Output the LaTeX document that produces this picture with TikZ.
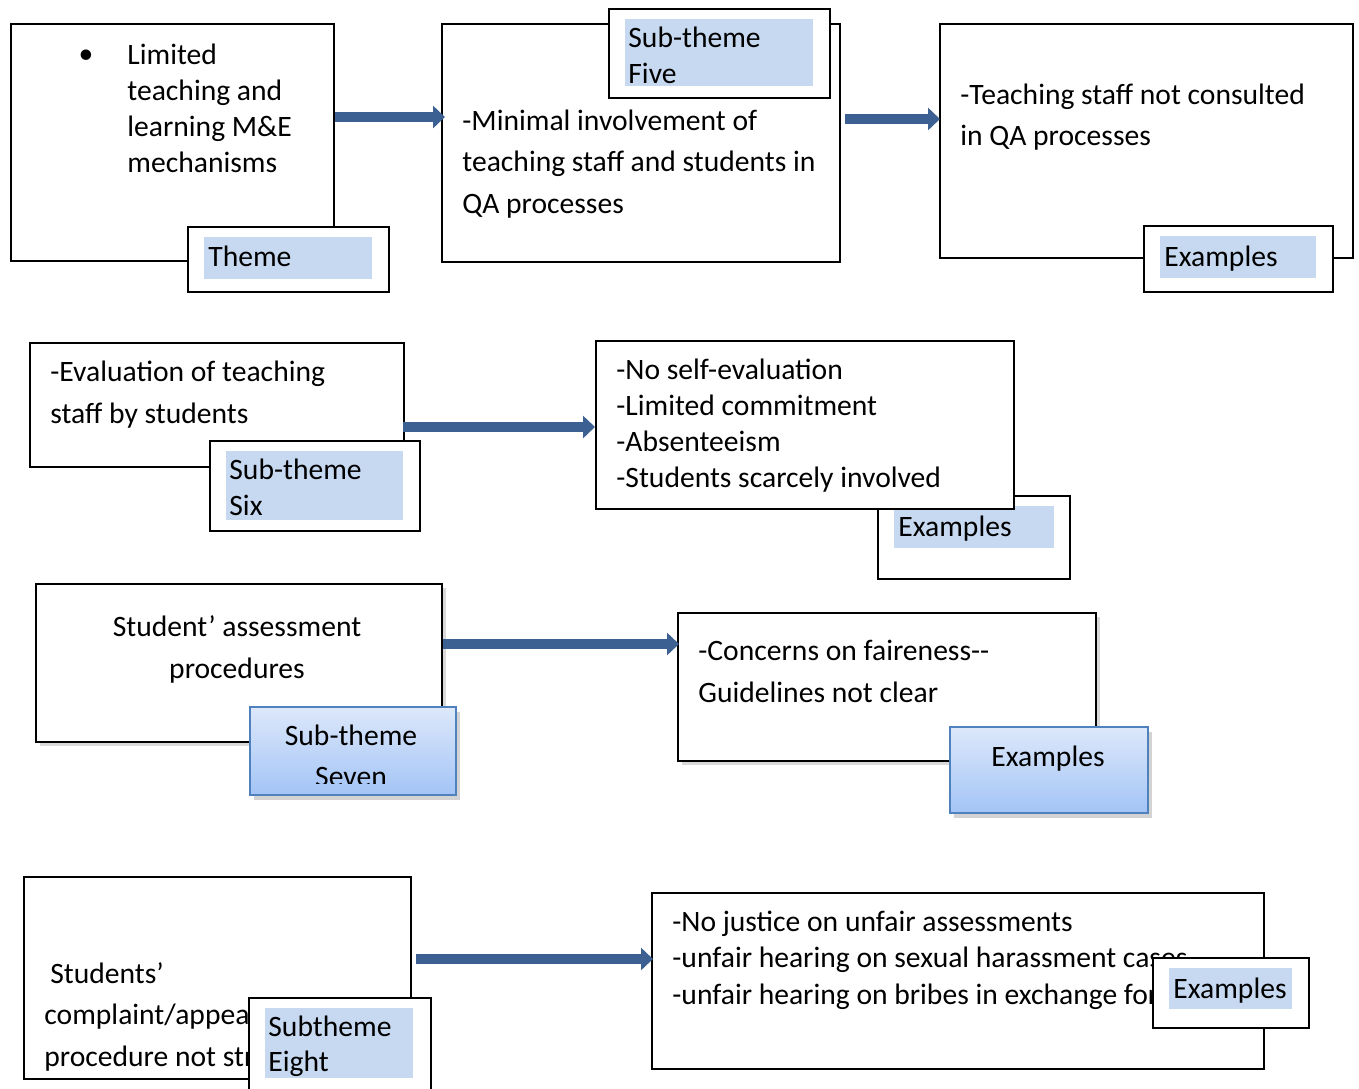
\documentclass[tikz,border=0pt]{standalone}
\usepackage{fontspec}
\setmainfont{Carlito}
\usetikzlibrary{arrows.meta,calc,shadows}
\newlength\pxu
\setlength\pxu{0.5pt}
\definecolor{tagblue}{RGB}{198,217,241}
\definecolor{arrowblue}{RGB}{60,96,146}
\definecolor{gradtop}{RGB}{221,232,250}
\definecolor{gradbot}{RGB}{163,196,246}
\definecolor{gradline}{RGB}{79,129,189}
\tikzset{
  x=\pxu, y=-\pxu,
  panel/.style={draw=black, fill=white, line width=1pt, anchor=north west, inner sep=0pt},
  shadowpanel/.style={panel, drop shadow={opacity=0.3, shadow xshift=2pt, shadow yshift=-2pt}},
  tagframe/.style={draw=black, fill=white, line width=1pt, anchor=north west, inner sep=0pt},
  tagfill/.style={fill=tagblue, draw=none, anchor=north west, inner sep=0pt},
  gradtag/.style={draw=gradline, line width=0.8pt, top color=gradtop, bottom color=gradbot,
    anchor=north west, inner sep=0pt,
    drop shadow={opacity=0.35, shadow xshift=2pt, shadow yshift=-2.5pt}},
  % text blocks are placed by the baseline of their last line
  txt/.style={inner sep=0pt, anchor=base west, align=left, yshift=-1pt},
  txtc/.style={inner sep=0pt, anchor=base, align=center, yshift=-1pt},
  arr/.style={draw=arrowblue, line width=5pt, -{Triangle[length=6pt,width=11pt]}},
}
\newcommand\fs[1]{\fontsize{14.8pt}{#1}\selectfont}
\begin{document}
\begin{tikzpicture}
\useasboundingbox (0,0) rectangle (1359,1088);

% ---------- row 1: theme ----------
\node[panel, minimum width=323\pxu, minimum height=237\pxu] (A) at (10,23) {};
\node[inner sep=0pt, font=\fs{18pt}] (Abul) at (86,57) {•};
\node[txt, font=\fs{18pt}] (Atxt) at (127,170) {Limited\\teaching and\\learning M\&E\\mechanisms};

\node[panel, minimum width=398\pxu, minimum height=238\pxu] (B) at (441,23) {};
\node[txt, font=\fs{20.75pt}] (Btxt) at (462,211) {-Minimal involvement of\\teaching staff and students in\\QA processes};

\node[panel, minimum width=413\pxu, minimum height=234\pxu] (C) at (939,23) {};
\node[txt, font=\fs{20.5pt}] (Ctxt) at (960,143) {-Teaching staff not consulted\\in QA processes};

\draw[arr] ($(A.north east)+(0,94)$) -- ($(B.north west)+(4,94)$);
\draw[arr] ($(B.north east)+(4,96)$) -- ($(C.north west)+(1,96)$);

\node[tagframe, minimum width=201\pxu, minimum height=65\pxu] (Atag) at (187,226) {};
\node[tagfill, minimum width=168\pxu, minimum height=42\pxu] (Atagf) at (204,237) {};
\node[txt, font=\fs{18pt}] (Atagt) at (208,264) {Theme};

\node[tagframe, minimum width=221\pxu, minimum height=89\pxu] (Btag) at (608,8) {};
\node[tagfill, minimum width=188\pxu, minimum height=67\pxu] (Btagf) at (625,19) {};
\node[txt, font=\fs{18pt}] (Btagt) at (628,81) {Sub-theme\\Five};

\node[tagframe, minimum width=189\pxu, minimum height=66\pxu] (Ctag) at (1143,225) {};
\node[tagfill, minimum width=156\pxu, minimum height=42\pxu] (Ctagf) at (1160,236) {};
\node[txt, font=\fs{18pt}] (Ctagt) at (1164,264) {Examples};

% ---------- row 2: sub-theme six ----------
\node[tagframe, minimum width=192\pxu, minimum height=83\pxu] (Etag) at (877,495) {};
\node[tagfill, minimum width=160\pxu, minimum height=42\pxu] (Etagf) at (894,506) {};
\node[txt, font=\fs{18pt}] (Etagt) at (898,534) {Examples};

\node[panel, minimum width=374\pxu, minimum height=124\pxu] (D) at (29,342) {};
\node[txt, font=\fs{21pt}] (Dtxt) at (50,421) {-Evaluation of teaching\\staff by students};

\node[panel, minimum width=418\pxu, minimum height=168\pxu] (E) at (595,340) {};
\node[txt, font=\fs{18pt}] (Etxt) at (616,485) {-No self-evaluation\\-Limited commitment\\-Absenteeism\\-Students scarcely involved};

\draw[arr] ($(D.north east)+(-2,85)$) -- ($(E.north west)+(0,87)$);

\node[tagframe, minimum width=210\pxu, minimum height=90\pxu] (Dtag) at (209,440) {};
\node[tagfill, minimum width=177\pxu, minimum height=69\pxu] (Dtagf) at (226,451) {};
\node[txt, font=\fs{18pt}] (Dtagt) at (229,513) {Sub-theme\\Six};

% ---------- row 3: sub-theme seven ----------
\node[shadowpanel, minimum width=406\pxu, minimum height=158\pxu] (F) at (35,583) {};
\node[txtc, font=\fs{21pt}] (Ftxt) at (237,676) {Student’ assessment\\procedures};

\node[shadowpanel, minimum width=418\pxu, minimum height=148\pxu] (G) at (677,612) {};
\node[txt, font=\fs{21pt}] (Gtxt) at (698,700) {-Concerns on faireness-{}-\\Guidelines not clear};

\draw[arr] ($(F.north east)+(0,61)$) -- ($(G.north west)+(2,32)$);

\node[gradtag, minimum width=206\pxu, minimum height=88\pxu] (Ftag) at (249,706) {};
\begin{scope}
  \clip (249,706) rectangle (455,783);
  \node[txtc, font=\fs{20.5pt}] (Ftagt) at (351,784) {Sub-theme\\Seven};
\end{scope}

\node[gradtag, minimum width=198\pxu, minimum height=86\pxu] (Gtag) at (949,726) {};
\node[txtc, font=\fs{18pt}] (Gtagt) at (1048,764) {Examples};

% ---------- row 4: sub-theme eight ----------
\node[panel, minimum width=387\pxu, minimum height=202\pxu] (H) at (23,876) {};
\node[txt, font=\fs{20.75pt}] (Htxt) at (44,1064) {\hspace{6\pxu}Students’\\complaint/appeal\\procedure not strictly};

\node[panel, minimum width=612\pxu, minimum height=176\pxu] (I) at (651,892) {};
\node[txt, font=\fs{18.25pt}] (Itxt) at (672,1002) {-No justice on unfair assessments\\-unfair hearing on sexual harassment cases\\-unfair hearing on bribes in exchange for};

\draw[arr] ($(H.north east)+(4,83)$) -- ($(I.north west)+(2,67)$);

\node[tagframe, minimum width=182\pxu, minimum height=100\pxu] (Htag) at (248,997) {};
\node[tagfill, minimum width=148\pxu, minimum height=70\pxu] (Htagf) at (265,1008) {};
\node[txt, font=\fs{17.5pt}] (Htagt) at (268,1069) {Subtheme\\Eight};

\node[tagframe, minimum width=156\pxu, minimum height=70\pxu] (Itag) at (1152,957) {};
\node[tagfill, minimum width=123\pxu, minimum height=41\pxu] (Itagf) at (1169,968) {};
\node[txt, font=\fs{18pt}] (Itagt) at (1173,996) {Examples};
\end{tikzpicture}
\end{document}
